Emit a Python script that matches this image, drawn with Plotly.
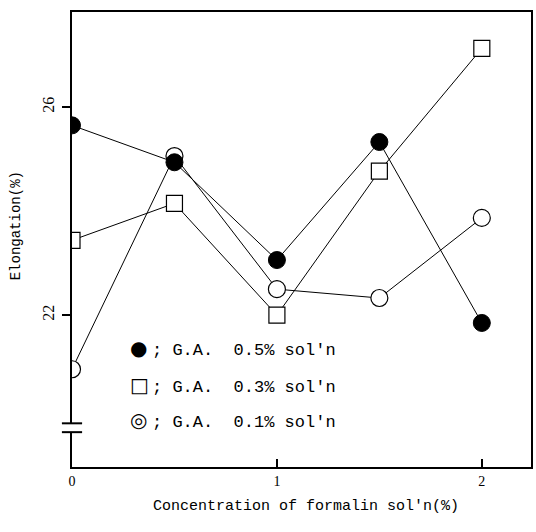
import plotly.graph_objects as go

conc = [0, 0.5, 1, 1.5, 2]
ga05 = [25.65, 24.94, 23.06, 25.33, 21.85]
ga03 = [23.44, 24.15, 22.0, 24.77, 27.13]
ga01 = [20.96, 25.06, 22.5, 22.33, 23.87]
legend_labels = ["; G.A.  0.5% sol'n", "; G.A.  0.3% sol'n", "; G.A.  0.1% sol'n"]
legend_symbols = ["\u25CF", "\u25A1", "\u25CE"]
x_ticks = [0, 1, 2]
y_ticks = [22, 26]

W, H = 536, 532
L, R, T, B = 72, 3, 12, 65
pw, ph = W - L - R, H - T - B

def px(x):
    return (x - L) / pw

def py(y):
    return (H - B - y) / ph

fig = go.Figure()
fig.add_trace(go.Scatter(x=conc, y=ga01, mode="lines+markers",
                         line=dict(color="black", width=1),
                         marker=dict(symbol="circle", size=17, color="white",
                                     line=dict(color="black", width=1.2))))
fig.add_trace(go.Scatter(x=conc, y=ga03, mode="lines+markers",
                         line=dict(color="black", width=1),
                         marker=dict(symbol="square", size=16, color="white",
                                     line=dict(color="black", width=1.2))))
fig.add_trace(go.Scatter(x=conc, y=ga05, mode="lines+markers",
                         line=dict(color="black", width=1),
                         marker=dict(symbol="circle", size=17, color="black",
                                     line=dict(color="black", width=1))))

fig.update_layout(
    width=W, height=H, margin=dict(l=L, r=R, t=T, b=B),
    paper_bgcolor="white", plot_bgcolor="white", showlegend=False,
    xaxis=dict(range=[0, 2.24], tickvals=x_ticks, ticktext=[str(v) for v in x_ticks],
               ticks="inside", ticklen=8, tickwidth=1.5, tickcolor="black",
               showline=True, linecolor="black", linewidth=1.8, mirror=True,
               showgrid=False, zeroline=False,
               tickfont=dict(family="Liberation Serif", size=14, color="black")),
    yaxis=dict(range=[19.08, 27.83], tickvals=y_ticks, ticktext=[str(v) for v in y_ticks],
               ticks="outside", ticklen=8, tickwidth=1.5, tickcolor="black",
               tickangle=-90, ticklabelstandoff=2,
               showline=True, linecolor="black", linewidth=1.8, mirror=True,
               showgrid=False, zeroline=False,
               tickfont=dict(family="Liberation Serif", size=16, color="black")),
)

# axis break
fig.add_shape(type="rect", xref="paper", yref="y", x0=-0.01, x1=0.01, y0=19.75, y1=19.92,
              fillcolor="white", line=dict(width=0), layer="above")
for yb in [19.75, 19.92]:
    fig.add_shape(type="line", xref="paper", yref="y", x0=-0.022, x1=0.022, y0=yb, y1=yb,
                  line=dict(color="black", width=2), layer="above")

# axis titles
fig.add_annotation(text="Concentration of formalin sol'n(%)", xref="paper", yref="paper",
                   x=px(307), y=py(517), showarrow=False,
                   font=dict(family="Liberation Mono", size=15, color="black"))
fig.add_annotation(text="Elongation(%)", xref="paper", yref="paper",
                   x=px(6), y=py(226), xanchor="left", textangle=-90, showarrow=False,
                   font=dict(family="Liberation Mono", size=14, color="black"))

# legend
rows = [362, 399, 434]
for sym, lab, ry in zip(legend_symbols, legend_labels, rows):
    fig.add_annotation(text=sym, xref="paper", yref="paper", x=px(128), y=py(ry),
                       showarrow=False, font=dict(family="DejaVu Sans", size=20, color="black"))
    fig.add_annotation(text=lab, xref="paper", yref="paper", x=px(150), y=py(ry),
                       xanchor="left", showarrow=False,
                       font=dict(family="Liberation Mono", size=17, color="black"))

fig.write_html("out.html")
